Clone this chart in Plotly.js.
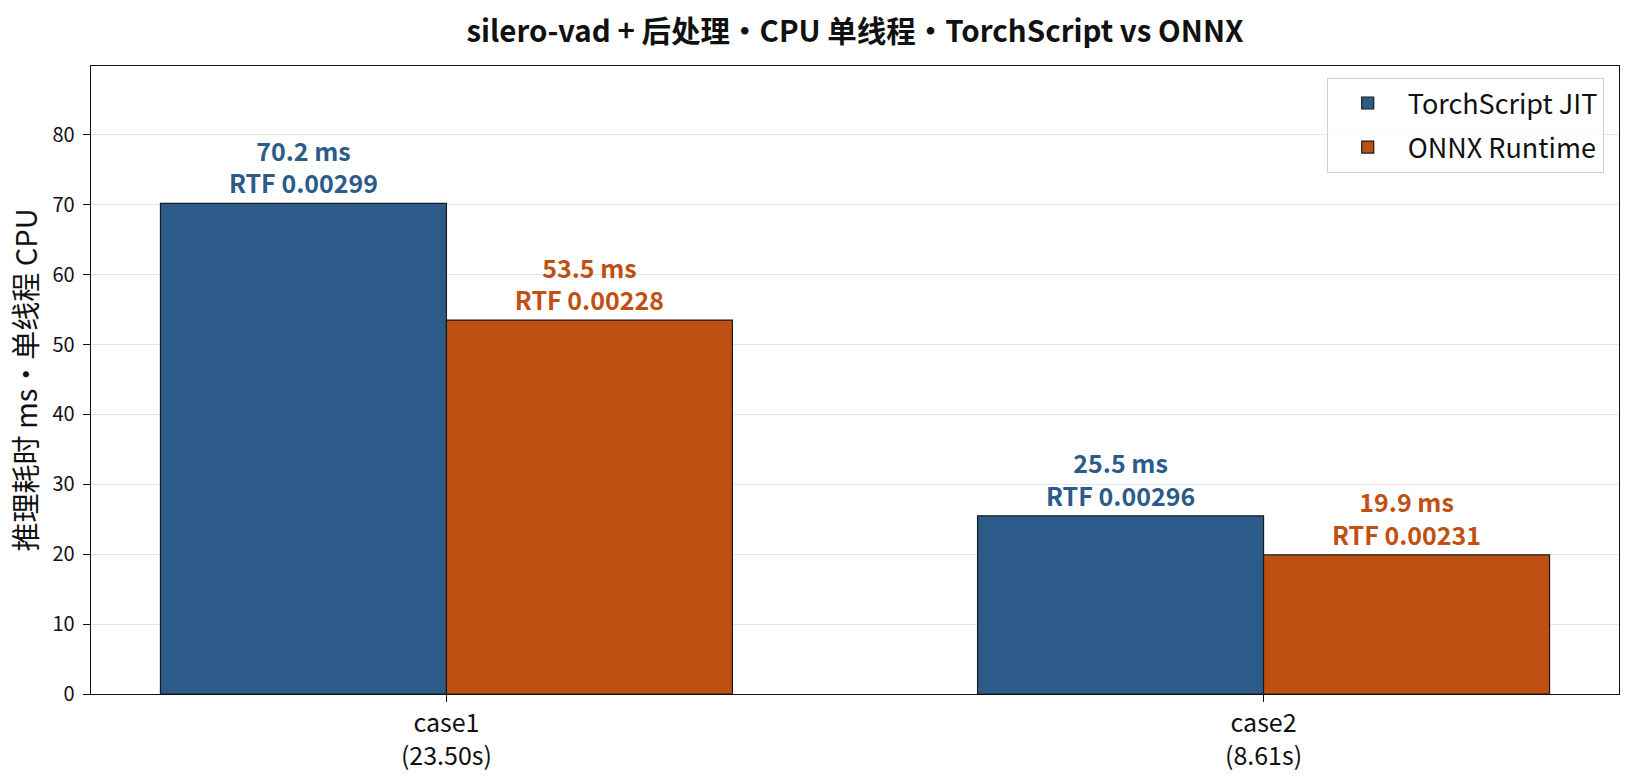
<!DOCTYPE html>
<html>
<head>
<meta charset="utf-8">
<script src="https://cdn.plot.ly/plotly-3.0.1.min.js"></script>
<style>
  body { margin: 0; background: #fff; }
  #chart { width: 1635px; height: 780px; }
</style>
</head>
<body>
<div id="chart"></div>
<script>
// cases and measured values
var cases = ['case1<br>(23.50s)', 'case2<br>(8.61s)'];
var torchMs = [70.2, 25.5];
var onnxMs = [53.5, 19.9];
var torchRtf = ['0.00299', '0.00296'];
var onnxRtf = ['0.00228', '0.00231'];

var blue = '#2c5b8a';
var orange = '#c05011';
var font = '"Noto Sans CJK SC", "Noto Sans", sans-serif';

var trace1 = {
  x: cases,
  y: torchMs,
  customdata: torchRtf,
  name: 'TorchScript JIT',
  legendgroup: 'a',
  type: 'bar',
  marker: { color: blue, line: { color: '#1a1a1a', width: 1.2 } },
  texttemplate: '<b>%{y:.1f} ms<br>RTF %{customdata}</b>',
  textposition: 'outside',
  textfont: { color: blue, size: 25, family: font },
  cliponaxis: false
};

var trace2 = {
  x: cases,
  y: onnxMs,
  customdata: onnxRtf,
  name: 'ONNX Runtime',
  legendgroup: 'b',
  type: 'bar',
  marker: { color: orange, line: { color: '#1a1a1a', width: 1.2 } },
  texttemplate: '<b>%{y:.1f} ms<br>RTF %{customdata}</b>',
  textposition: 'outside',
  textfont: { color: orange, size: 25, family: font },
  cliponaxis: false
};

var layout = {
  width: 1635,
  height: 780,
  margin: { l: 91, r: 16, t: 66, b: 86 },
  font: { family: font, color: '#111' },
  paper_bgcolor: '#fff',
  plot_bgcolor: '#fff',
  title: {
    text: '<b>silero-vad + 后处理·CPU 单线程·TorchScript vs ONNX</b>',
    font: { size: 29.5, family: font, color: '#111' },
    xref: 'paper', x: 0.5, xanchor: 'center', y: 0.96, yanchor: 'middle'
  },
  barmode: 'group',
  bargap: 0.3,
  bargroupgap: 0,
  showlegend: true,
  legend: {
    x: 0.99, y: 0.981, xanchor: 'right', yanchor: 'top',
    bordercolor: '#d0d0d0', borderwidth: 1, bgcolor: 'rgba(255,255,255,0.85)',
    font: { size: 27, family: font, color: '#111' },
    tracegroupgap: 6,
    itemwidth: 70
  },
  xaxis: {
    type: 'category',
    range: [-0.435, 1.435],
    showline: true, mirror: true, linecolor: '#111', linewidth: 1.3,
    ticks: 'outside', ticklen: 7, tickcolor: '#111',
    tickfont: { size: 25, family: font, color: '#111' },
    showgrid: false
  },
  yaxis: {
    title: { text: '推理耗时 ms·单线程 CPU', font: { size: 29, family: font, color: '#111' }, standoff: 6 },
    range: [0, 89.86],
    dtick: 10,
    showline: true, mirror: true, linecolor: '#111', linewidth: 1.3,
    ticks: 'outside', ticklen: 7, tickcolor: '#111',
    ticklabelstandoff: 4,
    tickfont: { size: 20, family: font, color: '#111' },
    showgrid: true, gridcolor: 'rgba(0,0,0,0.1)', gridwidth: 1,
    zeroline: false,
    layer: 'above traces'
  }
};

Plotly.newPlot('chart', [trace1, trace2], layout, { displayModeBar: false, staticPlot: true });
</script>
</body>
</html>
